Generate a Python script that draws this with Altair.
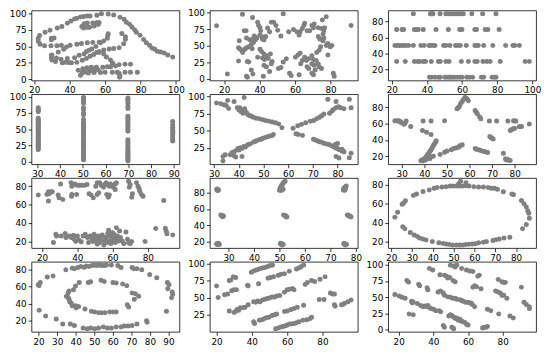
import altair as alt
import pandas as pd

# ---------------- data ----------------
dino_x = [55.3846, 51.5385, 46.1538, 42.8205, 40.7692, 38.7179, 35.641, 33.0769, 28.9744, 26.1538,
          23.0769, 22.3077, 22.3077, 23.3333, 25.8974, 29.4872, 32.8205, 35.3846, 40.2564, 44.1026,
          46.6667, 50.0, 53.0769, 56.6667, 59.2308, 61.2821, 61.5385, 61.7949, 57.4359, 54.8718,
          52.5641, 48.2051, 49.4872, 51.0256, 45.3846, 42.8205, 38.7179, 35.1282, 32.5641, 30.0,
          33.5897, 36.6667, 38.2051, 29.7436, 29.7436, 30.0, 32.0513, 35.8974, 41.0256, 44.1026,
          47.1795, 49.4872, 51.5385, 53.5897, 55.1282, 56.6667, 59.2308, 62.3077, 64.8718, 67.9487,
          70.5128, 71.5385, 71.5385, 69.4872, 46.9231, 48.2051, 50.0, 53.0769, 55.3846, 56.6667,
          56.1538, 53.8462, 51.2821, 50.0, 47.9487, 29.7436, 29.7436, 31.2821, 57.9487, 61.7949,
          64.8718, 68.4615, 70.7692, 72.0513, 73.8462, 75.1282, 76.6667, 77.6923, 79.7436, 81.7949,
          83.3333, 85.1282, 86.4103, 87.9487, 89.4872, 93.3333, 95.3846, 98.2051, 56.6667, 59.2308,
          60.7692, 63.0769, 64.1026, 64.359, 74.359, 71.2821, 67.9487, 65.8974, 63.0769, 61.2821,
          58.7179, 55.1282, 52.3077, 49.7436, 47.4359, 44.8718, 48.7179, 51.2821, 54.1026, 56.1538,
          52.0513, 48.7179, 47.1795, 46.1538, 50.5128, 53.8462, 57.4359, 60.0, 64.1026, 66.9231,
          71.2821, 74.359, 78.2051, 67.9487, 68.4615, 68.2051, 37.6923, 39.4872, 91.2821, 50.0,
          47.9487, 44.1026]
dino_y = [97.1795, 96.0256, 94.4872, 91.4103, 88.3333, 84.8718, 79.8718, 77.5641, 74.4872, 71.4103,
          66.4103, 61.7949, 57.1795, 52.9487, 51.0256, 51.0256, 51.0256, 51.4103, 51.4103, 52.9487,
          54.1026, 55.2564, 55.641, 56.0256, 57.9487, 62.1795, 66.4103, 69.1026, 55.2564, 49.8718,
          46.0256, 38.3333, 42.1795, 44.1026, 36.4103, 32.5641, 31.4103, 30.2564, 32.1795, 36.7949,
          41.4103, 45.641, 49.1026, 36.0256, 32.1795, 29.1026, 26.7949, 25.2564, 25.2564, 25.641,
          28.718, 31.4103, 34.8718, 37.5641, 40.641, 42.1795, 44.4872, 46.0256, 46.7949, 47.9487,
          53.718, 60.641, 64.4872, 69.4872, 79.8718, 84.1026, 85.2564, 85.2564, 86.0256, 86.0256,
          82.9487, 80.641, 78.718, 78.718, 77.5641, 59.8718, 62.1795, 62.5641, 99.4872, 99.1026,
          97.5641, 94.1026, 91.0256, 86.4103, 83.3333, 79.1026, 75.2564, 71.4103, 66.7949, 60.2564,
          55.2564, 51.4103, 47.5641, 46.0256, 42.5641, 39.8718, 36.7949, 33.718, 40.641, 38.3333,
          33.718, 29.1026, 25.2564, 24.1026, 22.9487, 22.9487, 22.1795, 20.2564, 19.1026, 19.1026,
          18.3333, 18.3333, 18.3333, 17.5641, 16.0256, 13.718, 14.8718, 14.8718, 14.8718, 14.1026,
          12.5641, 11.0256, 9.8718, 6.0256, 9.4872, 10.2564, 10.2564, 10.641, 10.641, 10.641,
          10.641, 10.641, 10.641, 8.718, 5.2564, 2.9487, 25.7692, 25.3846, 41.5385, 95.7692,
          95.0, 92.6923]

away = [(15.7, 80.0), (21.8, 6.8), (30.3, 97.6), (53.3, 98.5), (91.6, 80.7), (36.0, 92.8),
        (38.9, 85.5), (39.4, 80.7), (40.2, 77.3), (40.6, 72.5), (40.2, 66.2), (41.2, 63.8), (41.6, 60.0),
        (42.5, 59.0), (43.4, 63.8), (44.5, 76.8), (45.6, 71.0), (46.6, 85.5), (47.9, 85.5), (49.2, 80.7),
        (50.2, 73.4), (52.0, 64.7), (31.3, 72.5), (32.4, 72.5), (32.6, 61.4), (34.4, 59.0), (36.2, 60.0),
        (37.6, 59.0), (38.4, 61.4), (37.0, 64.7), (28.5, 57.5), (28.1, 46.9), (29.0, 44.4), (30.0, 43.0),
        (30.8, 43.0), (31.7, 44.4), (30.4, 39.6), (32.6, 46.9), (33.9, 48.3), (35.3, 51.7), (36.6, 55.0),
        (35.8, 45.4), (28.1, 26.6), (33.1, 26.0), (33.9, 25.0), (32.6, 3.4), (33.1, 1.9), (35.3, 13.0),
        (36.2, 6.8), (38.9, 32.4), (40.2, 44.4), (41.2, 40.6), (42.5, 37.2), (41.6, 31.4), (42.7, 29.0),
        (43.8, 34.8), (44.8, 30.9), (46.1, 37.2), (42.5, 20.3), (43.8, 17.9), (45.6, 10.6), (42.1, 3.4),
        (47.0, 26.0), (46.6, 22.7), (50.6, 15.5), (52.0, 16.9), (53.3, 25.1), (55.1, 30.0), (56.9, 8.2),
        (57.8, 4.8), (62.3, 5.8), (56.4, 71.0), (59.1, 74.4), (61.1, 71.0), (62.3, 66.2), (62.8, 71.0),
        (64.1, 75.8), (65.0, 80.7), (65.4, 84.0), (66.8, 72.5), (68.3, 72.5), (69.5, 80.7), (70.8, 83.0),
        (70.4, 77.3), (73.1, 77.3), (74.9, 75.8), (76.2, 72.5), (76.7, 77.3), (75.4, 88.9), (77.6, 93.7),
        (75.8, 67.6), (76.2, 61.4), (73.1, 63.8), (74.0, 60.0), (75.8, 57.5), (77.6, 50.2), (78.5, 53.1),
        (79.8, 48.3), (80.8, 50.2), (78.5, 35.7), (63.2, 22.7), (64.1, 27.5), (65.4, 32.4), (66.4, 27.5),
        (67.7, 30.0), (69.5, 34.8), (66.8, 17.9), (67.7, 15.5), (69.5, 22.7), (70.8, 20.3), (71.3, 13.0),
        (72.2, 39.6), (73.6, 43.0), (74.4, 48.3), (71.9, 27.5), (73.1, 22.7), (69.5, 8.2), (70.4, 5.8),
        (73.6, 17.9), (74.9, 15.5), (81.6, 8.2), (82.1, 3.4), (70.4, 29.0), (60.2, 32.4), (61.6, 35.7),
        (62.8, 38.6)]

h_lines_x = {
    90: [32.3, 42.0, 43.0, 42.5, 43.4, 47.5, 50.8, 52.1, 53.6, 55.1, 56.4, 57.7, 59.2, 60.7, 65.6, 71.7, 79.3],
    70: [22.8, 25.9, 26.8, 32.9, 34.2, 35.1, 37.9, 45.2, 52.2, 58.7, 59.9, 67.3, 68.2, 73.2, 74.7, 81.1],
    50: [21.8, 23.1, 24.4, 25.5, 26.8, 28.1, 29.6, 32.3, 36.6, 38.4, 41.2, 42.1, 43.4, 44.6, 49.5, 50.8,
         53.1, 56.3, 57.6, 59.0, 62.4, 67.3, 68.2, 69.2, 72.3, 77.5, 84.8, 88.9, 90.0, 92.6],
    30: [22.8, 27.7, 32.9, 34.7, 36.0, 37.9, 39.2, 42.5, 46.5, 47.6, 50.8, 52.6, 59.6, 63.6, 67.3, 68.6,
         71.9, 74.1, 76.0, 81.7, 95.9, 98.3],
    10: [41.5, 42.8, 44.7, 46.5, 47.6, 50.2, 51.3, 52.6, 53.5, 54.6, 55.7, 57.2, 58.7, 60.0, 62.7, 64.2,
         66.0, 71.0, 72.3, 77.1, 78.4, 79.3],
}

v_lines_y = {
    30.4: [19, 21, 23, 25, 27, 29, 31, 33, 35, 37, 39, 41, 43, 45, 47, 49, 51, 53, 55, 57, 59, 61, 63,
           65, 67, 77, 79, 81, 83],
    50.3: [3, 5, 7, 9, 12, 15, 18, 21, 24, 27, 30, 33, 36, 40, 43, 45, 48, 52, 55, 57, 59, 60, 65, 72,
           75, 80, 83, 90, 93, 96, 98, 99],
    69.8: [1, 3, 5, 7, 9, 11, 13, 16, 19, 22, 25, 28, 31, 34, 47, 50, 53, 56, 59, 62, 65, 68, 70, 82,
           85, 90, 93, 96, 98],
    89.5: [32, 34, 37, 41, 44, 47, 50, 53, 57, 62],
}

x_shape = [(31.0, 90.0), (32.7, 89.0), (34.0, 87.7), (34.9, 86.3), (35.9, 82.2), (35.5, 93.6), (38.1, 92.2),
           (39.4, 83.1), (40.1, 79.9), (40.4, 83.1), (41.0, 77.2), (41.3, 79.9), (41.7, 75.3), (42.4, 81.7),
           (42.6, 78.5), (42.2, 98.2), (43.3, 75.3), (43.9, 72.6), (44.6, 71.7), (45.2, 70.8), (45.9, 69.4),
           (47.1, 68.0), (48.4, 67.1), (49.7, 65.8), (51.0, 64.8), (52.3, 63.5), (53.6, 62.6), (54.9, 61.2),
           (56.2, 59.4), (57.5, 54.0), (63.2, 45.2), (64.1, 44.3), (65.8, 42.9), (70.3, 37.4), (70.9, 36.1),
           (71.9, 35.2), (72.7, 33.8), (73.6, 32.9), (74.5, 31.5), (75.5, 30.6), (76.5, 29.7), (77.4, 28.3),
           (78.3, 26.9), (78.7, 26.0), (79.4, 24.7), (80.0, 23.7), (80.6, 22.4), (81.3, 21.5), (81.9, 20.1),
           (79.1, 29.7), (80.0, 31.1), (81.9, 22.8), (79.4, 12.3), (80.6, 10.0), (84.8, 10.5), (85.5, 16.9),
           (82.6, 19.2), (33.6, 12.3), (34.5, 14.6), (33.6, 5.5), (36.6, 14.6), (37.2, 17.8), (38.1, 19.2),
           (38.1, 13.2), (38.8, 11.4), (39.1, 21.5), (39.7, 23.7), (40.1, 21.5), (40.7, 25.1), (41.3, 23.7),
           (41.3, 12.3), (42.0, 26.9), (42.6, 26.0), (43.3, 28.3), (43.9, 29.7), (44.6, 30.6), (45.9, 32.9),
           (46.5, 34.2), (47.1, 35.2), (48.2, 36.5), (49.1, 37.4), (49.7, 38.8), (50.7, 39.7), (51.6, 41.1),
           (52.6, 42.0), (53.6, 42.9), (54.0, 44.3), (62.0, 53.4), (63.9, 57.1), (65.4, 58.9), (67.1, 61.2),
           (69.0, 63.5), (70.3, 64.8), (71.6, 67.1), (72.7, 69.4), (73.6, 71.7), (74.5, 74.0), (76.8, 75.3),
           (77.8, 78.5), (78.3, 80.8), (79.4, 83.1), (80.4, 84.5), (81.3, 83.1), (82.6, 81.7), (85.5, 83.1),
           (76.1, 95.4), (79.4, 92.2), (84.8, 95.4)]

star = [(54.5, 78.0), (55.0, 79.5), (55.5, 81.0), (56.0, 84.0), (56.5, 86.0), (57.0, 88.0), (57.5, 90.0),
        (58.0, 92.0), (58.5, 91.0), (59.0, 90.0), (59.5, 88.0), (62.5, 76.0), (63.0, 74.0), (63.5, 72.0),
        (64.5, 68.0), (65.0, 66.0), (27.0, 63.5), (28.0, 63.5), (28.5, 63.0), (29.0, 63.0), (29.5, 62.0),
        (30.0, 61.0), (31.0, 59.0), (31.5, 60.0), (32.0, 63.0), (34.0, 56.5), (39.5, 63.0), (43.0, 63.0),
        (49.0, 63.5), (39.2, 51.5), (41.0, 49.5), (43.0, 46.5), (38.5, 14.5), (39.0, 15.0), (39.5, 16.0),
        (40.0, 17.0), (40.5, 18.0), (41.0, 20.0), (41.5, 22.0), (42.0, 24.0), (42.5, 26.0), (43.0, 28.0),
        (43.5, 30.0), (44.0, 33.0), (44.5, 35.0), (45.0, 37.0), (45.3, 39.0), (39.5, 14.0), (40.5, 15.5),
        (41.0, 16.5), (42.0, 18.0), (42.5, 17.0), (43.0, 19.5), (44.0, 20.0), (41.2, 19.0), (47.0, 22.0),
        (49.0, 25.0), (50.0, 26.5), (52.0, 28.0), (53.0, 29.5), (54.0, 30.0), (55.0, 31.0), (55.5, 32.0),
        (56.0, 33.0), (56.8, 34.0), (62.5, 29.5), (63.0, 28.5), (64.0, 28.0), (65.0, 27.0), (66.0, 26.0),
        (67.0, 25.5), (68.0, 24.5), (75.0, 23.5), (76.0, 16.0), (76.5, 15.5), (77.0, 16.0), (77.5, 15.0),
        (78.0, 14.8), (76.0, 17.0), (69.0, 44.0), (69.5, 43.0), (70.0, 42.0), (70.5, 41.0), (68.8, 63.0),
        (72.0, 63.0), (77.0, 63.0), (79.5, 63.5), (80.0, 63.0), (80.5, 63.0), (78.0, 51.5), (78.5, 52.5),
        (79.0, 53.0), (79.5, 54.0), (80.0, 54.0), (82.0, 56.0), (82.5, 56.5), (83.0, 56.5), (86.5, 59.5)]

high_lines = [(26.4, 18.8), (27.8, 27.8), (28.2, 26.0), (30.9, 26.0), (33.1, 28.6), (33.6, 24.2), (35.5, 26.0),
              (36.7, 24.2), (37.8, 26.8), (38.2, 22.4), (39.1, 19.9), (40.0, 26.0), (40.9, 21.7), (42.2, 19.6),
              (43.3, 26.0), (44.5, 27.8), (45.8, 24.2), (46.4, 18.8), (47.3, 26.0), (48.2, 23.2), (48.7, 19.9),
              (49.5, 27.8), (50.0, 25.3), (50.5, 19.9), (50.9, 22.4), (51.3, 17.0), (51.8, 26.0), (52.7, 18.8),
              (53.1, 24.2), (53.6, 21.4), (54.2, 27.1), (55.1, 16.3), (55.5, 19.9), (56.0, 24.2), (56.4, 22.4),
              (56.9, 18.8), (57.3, 28.6), (57.8, 32.2), (58.2, 20.6), (58.5, 26.0), (59.1, 17.8), (59.6, 21.4),
              (60.0, 29.6), (60.4, 24.2), (60.9, 27.8), (61.5, 18.8), (61.8, 22.4), (62.2, 35.0), (62.7, 26.0),
              (63.3, 20.6), (64.0, 31.4), (64.5, 24.2), (65.5, 20.6), (66.4, 17.8), (67.6, 30.4), (68.5, 22.4),
              (69.1, 18.8), (70.0, 17.8), (70.9, 19.9), (78.5, 19.9), (84.5, 34.0), (90.0, 34.3), (90.5, 31.0),
              (90.9, 28.5), (94.2, 27.1),
              (17.8, 70.3), (22.7, 71.0), (23.6, 73.9), (24.0, 71.7), (25.1, 73.9), (25.8, 73.9), (23.6, 63.8),
              (29.1, 70.3), (30.5, 82.5), (29.6, 67.4), (31.8, 65.6), (36.4, 83.6), (36.9, 80.0), (37.3, 81.8),
              (38.5, 82.5), (40.0, 81.0), (41.3, 81.0), (42.4, 81.0), (44.0, 81.0), (45.5, 81.8), (36.9, 71.0),
              (36.7, 69.2), (39.6, 71.0), (46.7, 71.7), (47.8, 70.3), (49.1, 67.4), (51.3, 71.0), (52.2, 72.8),
              (50.5, 80.0), (51.3, 83.6), (52.7, 83.6), (53.6, 81.0), (54.9, 78.9), (55.5, 81.8), (56.4, 83.6),
              (57.3, 81.8), (58.2, 80.0), (58.7, 82.5), (59.6, 81.0), (60.4, 78.9), (61.5, 82.5), (62.2, 83.6),
              (61.5, 76.4), (56.7, 71.0), (57.6, 68.1), (58.2, 70.3), (69.1, 85.4), (70.0, 81.8), (69.5, 78.9),
              (71.3, 71.7), (70.9, 68.1), (73.6, 83.6), (74.5, 80.0), (75.1, 77.5), (75.5, 74.6), (76.4, 71.0),
              (77.3, 69.2), (89.1, 64.5)]

dots = [(25.4, 83.9), (25.7, 83.3), (25.9, 82.8), (25.5, 84.4), (26.0, 83.6), (25.6, 82.5),
        (27.0, 52.5), (27.4, 51.6), (27.8, 50.8), (28.0, 51.2), (27.2, 52.0), (27.6, 50.3),
        (25.3, 17.3), (25.7, 16.8), (26.2, 17.0), (25.9, 17.8), (26.4, 16.5), (25.5, 16.3),
        (50.0, 83.0), (50.4, 84.2), (50.9, 83.4), (51.4, 84.0), (50.3, 85.8), (50.6, 87.5), (50.9, 89.2),
        (51.3, 91.0), (51.7, 92.6), (52.2, 94.0), (51.0, 86.0), (50.7, 82.6),
        (51.6, 52.7), (52.0, 52.0), (52.5, 51.2), (52.9, 50.5), (52.2, 51.8), (52.7, 50.0),
        (50.3, 17.3), (50.8, 16.7), (51.2, 17.1), (51.5, 16.4), (50.6, 17.9), (51.0, 15.9),
        (75.1, 83.2), (75.5, 84.0), (75.9, 84.8), (75.3, 85.5), (75.8, 86.9), (76.2, 88.2), (75.6, 82.8),
        (76.6, 52.6), (77.0, 51.9), (77.4, 51.4), (77.8, 50.7), (78.1, 50.2), (77.2, 52.2),
        (75.2, 17.3), (75.6, 16.6), (76.0, 17.1), (76.3, 16.3), (75.5, 17.9), (75.9, 15.9)]

circle = [(21.8, 45.9), (23.1, 51.0), (25.3, 59.5), (26.0, 61.0), (26.9, 63.3), (25.6, 35.6), (26.6, 33.6),
          (29.2, 29.5), (31.1, 26.8), (32.6, 25.2), (33.7, 23.7), (35.3, 22.6), (36.8, 21.5), (39.8, 20.0),
          (42.9, 18.6), (44.9, 17.9), (46.4, 17.3), (47.9, 16.9), (49.5, 16.4), (51.3, 16.4), (52.9, 16.4),
          (54.4, 16.4), (55.9, 16.7), (57.4, 17.0), (58.9, 17.3), (60.4, 17.7), (62.0, 18.7), (64.3, 19.3),
          (65.8, 20.0), (68.9, 21.0), (70.4, 22.0), (71.9, 22.6), (74.2, 23.7), (77.0, 24.4), (83.1, 33.6),
          (84.9, 38.0), (86.4, 44.8), (86.1, 50.0), (85.6, 52.7), (84.9, 56.8), (83.8, 60.2), (82.6, 63.6),
          (78.8, 69.8), (78.0, 70.5), (73.9, 72.8), (71.1, 75.5), (69.6, 76.5), (68.1, 76.5), (66.6, 77.3),
          (64.3, 77.9), (62.0, 77.9), (59.7, 78.3), (57.4, 78.9), (55.9, 79.3), (54.4, 79.0), (52.9, 79.0),
          (51.3, 79.0), (49.8, 79.0), (48.3, 79.0), (46.4, 78.3), (44.4, 77.9), (42.1, 77.3), (40.6, 76.6),
          (38.3, 74.8), (35.3, 73.1), (32.2, 70.4), (30.7, 68.8), (53.3, 84.1), (55.9, 82.4), (52.4, 81.4)]

bullseye = [(19.8, 62.4), (20.9, 65.0), (20.3, 61.3), (24.7, 71.4), (27.8, 72.5), (34.7, 80.0), (38.1, 81.9),
            (39.3, 81.1), (41.1, 82.6), (42.8, 83.7), (44.5, 83.0), (45.7, 84.5), (47.1, 83.7), (48.8, 84.9),
            (50.2, 85.6), (51.4, 84.9), (52.6, 85.6), (54.0, 84.9), (55.4, 84.9), (56.6, 85.6), (59.2, 85.6),
            (62.7, 84.9), (64.4, 82.6), (70.4, 82.6), (71.3, 81.1), (73.0, 81.1), (75.6, 80.0), (79.9, 74.4),
            (83.7, 70.6), (89.4, 65.0), (90.3, 62.4), (89.6, 57.5), (92.0, 53.8), (92.3, 51.2), (91.7, 47.0),
            (88.9, 31.3), (78.2, 20.0), (78.5, 18.2), (73.0, 16.3), (70.4, 14.5), (68.2, 13.7), (66.1, 13.7),
            (64.4, 12.6), (61.8, 12.6), (59.2, 11.5), (57.1, 11.5), (54.9, 12.6), (52.3, 11.5), (50.2, 10.7),
            (48.0, 11.5), (46.2, 10.7), (44.0, 11.5), (39.3, 14.5), (37.1, 16.3), (33.0, 16.3), (29.5, 22.0),
            (23.8, 25.7), (20.3, 32.4),
            (35.0, 48.9), (35.9, 47.4), (36.4, 45.2), (36.8, 42.5), (37.6, 40.6), (38.1, 37.7), (35.9, 52.7),
            (36.4, 54.9), (38.8, 56.4), (39.9, 60.9), (41.9, 65.0), (46.8, 65.0), (48.0, 65.8), (53.7, 67.6),
            (55.4, 66.1), (60.1, 65.0), (61.8, 64.3), (65.3, 63.1), (67.5, 61.3), (70.4, 52.7), (72.2, 51.9),
            (73.9, 48.9), (71.6, 45.2), (67.8, 38.8), (68.6, 36.2), (61.8, 30.2), (60.1, 30.2), (58.3, 30.2),
            (55.8, 29.4), (54.0, 29.4), (52.3, 29.4), (50.2, 30.2), (48.5, 31.3), (45.0, 33.9), (41.6, 36.9),
            (40.2, 35.0), (39.9, 37.7)]

slant_up = [(39.7, 87.7), (41.0, 89.5), (42.4, 90.9), (43.8, 92.0), (45.1, 93.2), (46.4, 94.1), (47.8, 95.0),
            (49.2, 96.4), (50.4, 97.3), (51.7, 97.7), (43.8, 70.9), (49.2, 78.6), (50.5, 80.0), (52.3, 80.9),
            (55.0, 83.2), (56.5, 84.5), (58.5, 85.5), (61.2, 89.0), (65.3, 92.3), (66.6, 93.6), (67.8, 95.5),
            (69.3, 98.2), (70.2, 69.5), (71.4, 72.7), (73.8, 75.5), (75.6, 74.1), (78.6, 77.3), (81.5, 80.9),
            (78.2, 47.7), (80.9, 47.7), (84.5, 57.3), (85.8, 55.9), (86.8, 55.9), (86.8, 40.0), (87.2, 37.7),
            (90.8, 40.0), (91.7, 40.9), (92.6, 42.3), (94.4, 44.5), (96.2, 46.8), (20.0, 67.3), (20.9, 50.5),
            (24.5, 54.5), (26.3, 55.9), (27.2, 75.5), (28.1, 76.4), (29.5, 80.9), (30.8, 80.0), (28.6, 60.5),
            (29.9, 61.8), (31.3, 61.8), (37.6, 68.6), (37.9, 67.3), (27.2, 30.9), (29.9, 28.6), (30.8, 30.0),
            (31.6, 33.2), (32.5, 32.0), (33.4, 35.5), (34.8, 35.5), (36.1, 36.4), (37.9, 40.0), (41.0, 44.5),
            (42.1, 43.6), (43.3, 45.5), (44.6, 44.5), (46.0, 46.8), (47.4, 48.2), (48.7, 49.1), (49.9, 50.0),
            (51.4, 51.4), (52.8, 51.4), (54.1, 52.7), (55.8, 53.6), (58.5, 58.2), (60.0, 61.8), (61.3, 62.7),
            (63.0, 63.6), (63.9, 61.8), (41.0, 15.0), (41.5, 12.7), (44.2, 17.3), (45.6, 18.2), (46.9, 19.5),
            (48.1, 20.9), (49.6, 21.8), (51.4, 24.1), (52.8, 25.5), (54.1, 26.4), (53.5, 5.0), (54.9, 5.9),
            (56.4, 7.3), (57.6, 8.2), (58.9, 9.1), (60.0, 10.5), (61.3, 11.8), (62.5, 11.8), (63.9, 12.7),
            (65.3, 13.6), (66.6, 15.0), (68.9, 17.3), (71.1, 18.2), (72.9, 19.5), (73.8, 21.8), (58.5, 30.0),
            (60.0, 30.9), (62.1, 33.2), (63.9, 34.5), (65.7, 36.4), (69.3, 39.1)]

slant_down = [(17.8, 54.1), (20.4, 51.7), (21.9, 49.8), (23.7, 48.3), (24.7, 75.8), (25.6, 73.4), (26.0, 24.2),
              (28.4, 22.7), (27.4, 43.5), (27.8, 41.1), (28.4, 42.4), (31.5, 70.0), (32.1, 67.6), (30.8, 40.1),
              (32.7, 37.2), (34.0, 35.3), (34.9, 36.2), (35.8, 35.3), (36.8, 37.2), (37.7, 33.8), (38.6, 32.4),
              (40.1, 31.4), (41.4, 29.0), (43.3, 29.0), (44.2, 27.5), (36.4, 64.3), (36.8, 61.4), (37.7, 94.2),
              (39.6, 91.8), (42.7, 58.0), (44.2, 59.4), (45.7, 56.5), (46.4, 53.1), (43.8, 84.5), (46.4, 83.6),
              (47.6, 82.1), (48.3, 79.7), (49.4, 80.7), (45.7, 6.3), (46.4, 3.4), (48.9, 20.8), (49.8, 22.7),
              (50.7, 21.7), (51.7, 19.3), (52.6, 16.9), (53.5, 17.9), (54.4, 14.5), (55.4, 15.9), (56.3, 13.0),
              (57.2, 12.1), (58.2, 11.1), (59.1, 8.2), (60.0, 7.2), (50.7, 3.4), (51.7, 1.4), (49.8, 99.0),
              (51.7, 98.0), (52.6, 96.6), (53.5, 99.6), (51.3, 75.8), (52.6, 73.9), (56.3, 94.2), (59.1, 91.8),
              (61.0, 90.3), (62.8, 89.4), (65.6, 82.1), (66.5, 83.6), (48.3, 50.7), (49.8, 49.8), (51.3, 48.3),
              (52.6, 48.3), (53.5, 46.9), (55.4, 45.9), (56.3, 45.0), (57.2, 43.5), (58.7, 42.0), (60.0, 42.0),
              (60.9, 41.1), (61.8, 41.1), (62.5, 38.6), (62.8, 65.2), (63.8, 67.6), (65.0, 66.2), (67.5, 62.8),
              (63.8, 35.3), (68.4, 2.4), (69.3, 3.4), (70.3, 3.4), (71.2, 4.8), (71.2, 31.4), (73.1, 29.0),
              (77.4, 77.3), (79.6, 73.9), (80.5, 72.5), (81.5, 72.5), (75.9, 59.4), (77.4, 58.0), (78.7, 56.5),
              (79.6, 53.1), (80.5, 53.1), (82.4, 48.3), (77.7, 24.2), (84.2, 20.8), (86.1, 17.9), (90.8, 65.2),
              (92.3, 42.0), (93.6, 38.6), (95.4, 35.3), (95.4, 32.4)]

# tick labels for each panel (x ticks, y ticks)
ticks = {
    "dino": ([20, 40, 60, 80, 100], [0, 25, 50, 75, 100]),
    "away": ([20, 40, 60, 80], [0, 25, 50, 75, 100]),
    "h_lines": ([20, 40, 60, 80, 100], [20, 40, 60, 80]),
    "v_lines": ([30, 40, 50, 60, 70, 80, 90], [0, 25, 50, 75, 100]),
    "x_shape": ([30, 40, 50, 60, 70, 80], [0, 25, 50, 75, 100]),
    "star": ([30, 40, 50, 60, 70, 80], [20, 40, 60, 80]),
    "high_lines": ([20, 40, 60, 80], [20, 40, 60, 80]),
    "dots": ([30, 40, 50, 60, 70, 80], [20, 40, 60, 80]),
    "circle": ([20, 30, 40, 50, 60, 70, 80], [20, 40, 60, 80]),
    "bullseye": ([20, 30, 40, 50, 60, 70, 80, 90], [20, 40, 60, 80]),
    "slant_up": ([20, 40, 60, 80], [25, 50, 75, 100]),
    "slant_down": ([20, 40, 60, 80], [0, 25, 50, 75, 100]),
}

# ---------------- assemble ----------------
def pairs_df(pairs):
    return pd.DataFrame(pairs, columns=["x", "y"])

frames = {
    "dino": pd.DataFrame({"x": dino_x, "y": dino_y}),
    "away": pairs_df(away),
    "h_lines": pd.DataFrame([(x, lvl) for lvl, xs in h_lines_x.items() for x in xs], columns=["x", "y"]),
    "v_lines": pd.DataFrame([(lvl, y) for lvl, ys in v_lines_y.items() for y in ys], columns=["x", "y"]),
    "x_shape": pairs_df(x_shape),
    "star": pairs_df(star),
    "high_lines": pairs_df(high_lines),
    "dots": pairs_df(dots),
    "circle": pairs_df(circle),
    "bullseye": pairs_df(bullseye),
    "slant_up": pairs_df(slant_up),
    "slant_down": pairs_df(slant_down),
}

order = ["dino", "away", "h_lines", "v_lines", "x_shape", "star",
         "high_lines", "dots", "circle", "bullseye", "slant_up", "slant_down"]


def padded(s):
    lo, hi = float(s.min()), float(s.max())
    m = (hi - lo) * 0.05
    return [lo - m, hi + m]


charts = []
for name in order:
    df = frames[name]
    xt, yt = ticks[name]
    c = alt.Chart(df).mark_circle(size=26, color="#808080", opacity=1).encode(
        x=alt.X("x:Q", title=None,
                scale=alt.Scale(domain=padded(df["x"]), nice=False, zero=False),
                axis=alt.Axis(values=xt)),
        y=alt.Y("y:Q", title=None,
                scale=alt.Scale(domain=padded(df["y"]), nice=False, zero=False),
                axis=alt.Axis(values=yt)),
    ).properties(width=151, height=71.5)
    charts.append(c)

chart = alt.concat(*charts, columns=3, spacing={"row": 13.5, "column": 31}, bounds="flush").properties(
    padding={"left": 0, "top": -4, "right": 0, "bottom": 0}
).configure_axis(
    grid=False, domain=False, ticks=True, tickColor="black", tickSize=3.5, tickWidth=0.8,
    labelColor="black", labelFont="DejaVu Sans", labelFontSize=9, labelPadding=2,
    labelFlush=False, labelOverlap=False,
).configure_view(stroke="black", strokeWidth=0.8)

chart.save("out.html", embed_options={"renderer": "svg", "actions": False})
